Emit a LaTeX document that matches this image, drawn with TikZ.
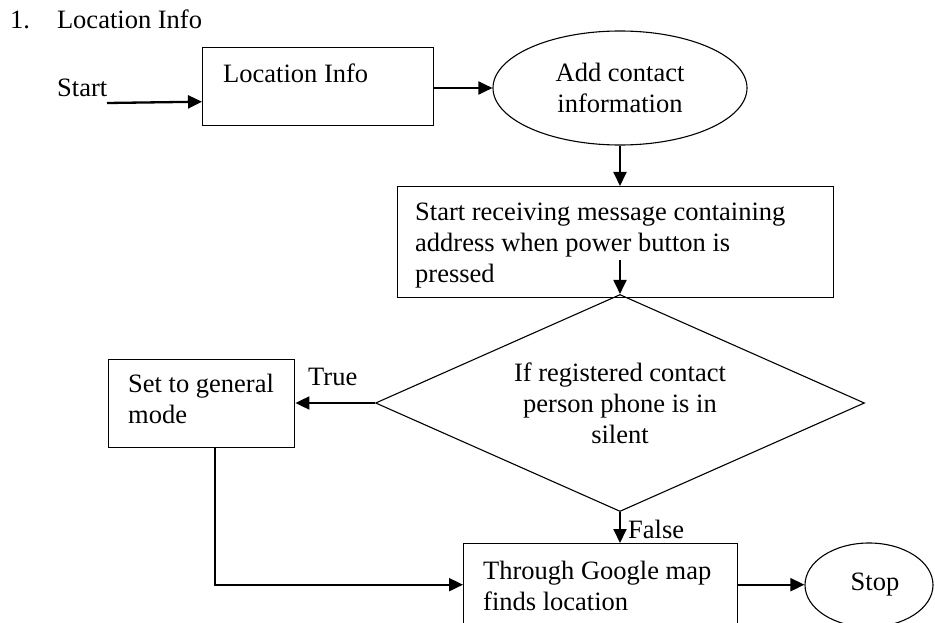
\documentclass[tikz,border=0pt]{standalone}
\usepackage{fontspec}
\setmainfont{Liberation Serif}
\usetikzlibrary{shapes.geometric,arrows.meta}
\begin{document}
\begin{tikzpicture}[x=1pt,y=-1pt,
  every node/.style={font=\fontsize{26.5}{31}\selectfont},
  box/.style={draw, line width=1.4pt, inner sep=0pt, anchor=north west},
  lbl/.style={anchor=base west, inner sep=0pt, align=left},
  oval/.style={draw, ellipse, line width=1.1pt, inner sep=0pt, align=center},
  arr/.style={line width=1.9pt, -{Triangle[length=14pt,width=13pt]}},
  ]
\useasboundingbox (0,0) rectangle (935,623);

% title
\node[lbl] (title) at (10,29) {1.\hspace{27pt}Location Info};

% shapes
\node[box, minimum width=231pt, minimum height=78pt] (loc) at (202,47) {};
\node[lbl] (loctxt) at (223,83) {Location Info};
\node[lbl] (starttxt) at (57,97) {Start};
\coordinate (s0) at (107,103);

\node[oval, minimum width=254pt, minimum height=114pt] (add) at (620,88) {Add contact\\information};

\node[box, minimum width=436pt, minimum height=111pt] (msg) at (397,186) {};
\node[lbl] (msgtxt) at (415,282) {Start receiving message containing\\address when power button is\\pressed};

\node[draw, diamond, line width=1.1pt, inner sep=0pt, shape aspect=2.25,
      minimum width=489pt, minimum height=217pt, align=center] (dec) at (620,403)
      {If registered contact\\person phone is in\\silent};

\node[box, minimum width=186pt, minimum height=88pt] (set) at (108,359) {};
\node[lbl] (settxt) at (128,423) {Set to general\\mode};
\node[lbl] (truetxt) at (308,385) {True};

\node[box, minimum width=274pt, minimum height=82pt] (goog) at (463,543) {};
\node[lbl] (googtxt) at (483,610) {Through Google map\\finds location};
\node[lbl] (falsetxt) at (628,538) {False};

\node[oval, minimum width=128pt, minimum height=84pt] (stop) at (869,585) {\hspace{12pt}Stop};

% connectors
\draw[arr, line width=2.3pt] (s0) -- ([yshift=-15pt]loc.west);
\draw[arr] (loc.east |- add.west) -- (add.west);
\draw[arr] (add.south) -- (add.south |- msg.north);
\draw[arr] ([yshift=34pt]dec.north) -- (dec.north);
\draw[arr] (dec.west) -- (dec.west -| set.east);
\draw[arr] (dec.south) -- (dec.south |- goog.north);
\draw[arr] ([xshift=13pt]set.south) |- (goog.west);
\draw[arr] (goog.east) -- (goog.east -| stop.west);
\end{tikzpicture}
\end{document}
